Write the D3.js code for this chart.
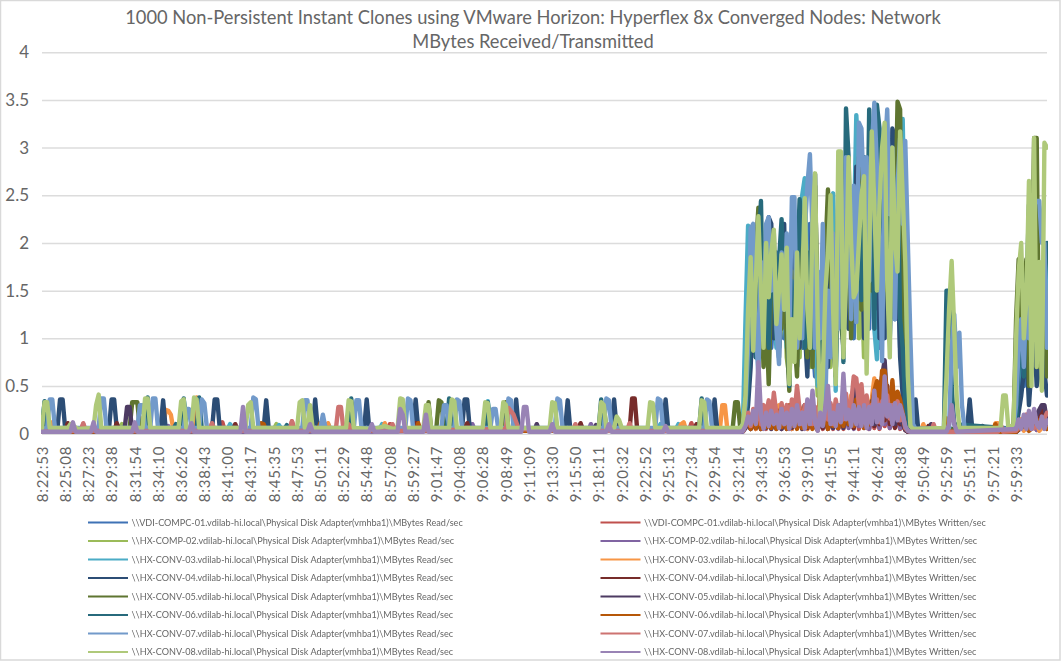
<!DOCTYPE html>
<html>
<head>
<meta charset="utf-8">
<script src="https://cdn.jsdelivr.net/npm/d3@7"></script>
<style>
body { margin: 0; background: #fff; }
text { font-family: Lato, "Open Sans", sans-serif; fill: #666; }
.grid line { stroke: #dcdcdc; stroke-width: 1.5; }
.grid path, .xaxis path, .xaxis line { display: none; }
.ylab text { font-size: 17px; }
.xaxis text { font-size: 15px; letter-spacing: .8px; }
.legend text { font-size: 9.1px; filter: blur(.35px); }
</style>
</head>
<body>
<div id="chart"></div>
<script>
"use strict";

var titleLines = ['1000 Non-Persistent Instant Clones using VMware Horizon: Hyperflex 8x Converged Nodes: Network', 'MBytes Received/Transmitted'];
var yTicks = [0, 0.5, 1, 1.5, 2, 2.5, 3, 3.5, 4];
var timeLabels = ['8:22:53','8:25:08','8:27:23','8:29:38','8:31:54','8:34:10','8:36:26','8:38:43','8:41:00','8:43:17','8:45:35','8:47:53','8:50:11','8:52:29','8:54:48','8:57:08','8:59:27','9:01:47','9:04:08','9:06:28','9:08:49','9:11:09','9:13:30','9:15:50','9:18:11','9:20:32','9:22:52','9:25:13','9:27:34','9:29:54','9:32:14','9:34:35','9:36:53','9:39:10','9:41:55','9:44:11','9:46:24','9:48:38','9:50:49','9:52:59','9:55:11','9:57:21','9:59:33'];
var samplesPerLabel = 9;
var lastSample = 390;
var busyStart = 272;

var hosts = ['\\\\VDI-COMPC-01.vdilab-hi.local', '\\\\HX-COMP-02.vdilab-hi.local', '\\\\HX-CONV-03.vdilab-hi.local', '\\\\HX-CONV-04.vdilab-hi.local', '\\\\HX-CONV-05.vdilab-hi.local', '\\\\HX-CONV-06.vdilab-hi.local', '\\\\HX-CONV-07.vdilab-hi.local', '\\\\HX-CONV-08.vdilab-hi.local'];
var readColors = ['#3f72b5', '#9bbb59', '#4bacc6', '#2c4d75', '#5f7530', '#276a7c', '#729aca', '#afc97a'];
var writeColors = ['#c0504d', '#8064a2', '#f79646', '#772c2a', '#4d3b62', '#b65708', '#cd7371', '#9983b5'];

var read01Idle = [[0,.04],[60,.05],[61,.1],[62,.05],[150,.04],[271,.05]];
var read01Busy = [.05,.4,1.1,.8,1.6,.9,1.8,1.2,2,1,1.6,.9,1.3,1.9,.9,1.5,1,1.7,.7,2,1.3,.7,1.1,.9,1.4,.9,2.2,1,.6,1.2,.5,1.4,.8,1.6,1,1.9,.8,1.4,2,1,2.3,1.2,1.6,1,2.2,1.3,2.4,1,1.8,1.1,2.5,1.4,2,.9,1.6,1.2,2.4,1,1.7,1.2,2,.9,.6,.2,.06,.05,.05];
var read01Tail = [[339,.04],[378,.04],[379,.3],[380,.8],[381,.5],[383,1.1],[385,.7],[387,1.2],[390,.8]];

var write01Idle = [[0,.02],[15,.02],[16,.1],[17,.02],[65,.02],[66,.11],[67,.02],[69,.02],[70,.12],[71,.02],[96,.02],[97,.13],[98,.02],[134,.03],[135,.1],[136,.03],[164,.03],[165,.1],[166,.03],[184,.03],[185,.1],[186,.03],[208,.03],[209,.1],[210,.03],[251,.03],[252,.11],[253,.03],[271,.03]];
var write01Busy = [.03,.08,.14,.06,.16,.05,.2,.06,.18,.05,.16,.08,.2,.06,.16,.05,.18,.07,.2,.05,.16,.06,.22,.06,.2,.05,.18,.06,.2,.04,.16,.05,.2,.06,.18,.05,.22,.07,.2,.05,.24,.08,.2,.06,.22,.05,.2,.08,.24,.05,.2,.06,.22,.05,.2,.08,.24,.06,.2,.07,.18,.05,.1,.04,.02,.02,.02];
var write01Tail = [[339,.02],[345,.02],[346,.08],[347,.02],[370,.02],[371,.1],[372,.02],[378,.03],[384,.12],[386,.04],[390,.15]];

var read02Idle = [[0,.05],[30,.06],[31,.1],[32,.05],[90,.05],[91,.1],[92,.05],[271,.05]];
var read02Busy = [.05,.3,1,1.6,.9,1.4,1.9,1,.8,1.6,1,1.7,1.1,1.8,.9,1.2,1.7,.8,.6,1.4,.9,1.6,.8,1.9,1,1.5,.7,2,1.1,.4,.8,1.4,1.1,1.9,.7,1.6,.6,2.1,1.2,2.4,1.3,1.1,1.8,1.3,2.2,1,1.7,.8,2.5,1.5,2.1,1.2,2.6,1.8,1,2.3,1.4,2.5,1.5,2.2,1.3,2.6,1,.4,.1,.05,.05];
var read02Tail = [[339,.05],[377,.05],[378,.9],[379,1.5],[380,.8],[381,1.6],[382,.9],[383,2],[384,.7],[385,2.2],[386,.6],[387,1.7],[388,.5],[389,2],[390,1.4]];

var write02Idle = [[0,.02],[48,.02],[49,.08],[50,.02],[120,.02],[121,.08],[122,.02],[166,.03],[167,.1],[168,.03],[212,.03],[213,.1],[214,.03],[271,.02]];
var write02Busy = [.02,.06,.12,.05,.14,.06,.2,.05,.16,.06,.2,.05,.18,.06,.14,.05,.2,.06,.16,.05,.22,.07,.2,.06,.24,.05,.2,.07,.18,.04,.2,.06,.18,.05,.24,.06,.2,.05,.26,.08,.24,.06,.2,.05,.3,.08,.24,.06,.26,.05,.28,.08,.24,.06,.3,.1,.26,.06,.22,.08,.2,.06,.12,.04,.02,.02,.02];
var write02Tail = [[339,.02],[378,.02],[384,.14],[386,.04],[390,.1]];

var read03Idle = [[0,.05],[1,.33],[2,.05],[54,.05],[55,.36],[56,.05],[72,.05],[73,.1],[74,.05],[91,.05],[92,.09],[93,.05],[110,.05],[111,.1],[112,.05],[131,.05],[132,.1],[133,.05],[172,.05],[173,.34],[174,.05],[239,.05],[240,.1],[241,.05],[246,.05],[247,.1],[248,.05],[271,.05]];
var read03Busy = [.1,1.2,2.18,1.7,1,1.6,1.1,2,.9,1.5,1,1.7,1.3,.9,1.8,1.2,1.4,.9,1.2,1.9,1.4,.8,2,2.5,2.68,1.4,.9,1.8,1.2,.5,1.6,1.2,1.9,1.1,2.4,2.52,.45,2.2,1.6,2.6,1.5,2.4,1.3,2,3.34,2.8,1.5,2.3,1.3,2.8,1.9,1.1,.78,2.2,2.7,1.4,2.6,1.3,2.8,1.8,2.4,2.9,3.3,1.8,.4,.08,.05];
var read03Tail = [[339,.04],[377,.05],[379,.6],[380,1.3],[381,.8],[383,1.7],[384,.8],[385,2],[387,1.6],[388,.8],[390,1.8]];

var write03Idle = [[0,.02],[3,.03],[4,.12],[5,.1],[6,.03],[37,.03],[38,.16],[39,.16],[40,.03],[47,.04],[48,.25],[49,.24],[50,.2],[51,.04],[59,.05],[60,.38],[61,.05],[110,.03],[111,.11],[112,.03],[132,.03],[133,.11],[134,.03],[223,.03],[224,.12],[225,.03],[247,.03],[248,.1],[249,.12],[250,.03],[263,.03],[264,.3],[265,.3],[266,.03],[271,.03]];
var write03Busy = [.03,.1,.2,.06,.18,.05,.22,.08,.25,.06,.2,.08,.24,.06,.3,.1,.22,.06,.24,.05,.18,.07,.26,.08,.2,.05,.24,.08,.2,.04,.4,.1,.26,.08,.3,.1,.24,.06,.28,.1,.32,.12,.4,.12,.45,.5,.18,.34,.1,.3,.36,.58,.2,.3,.46,.14,.34,.2,.4,.15,.34,.22,.18,.06,.03,.02,.02];
var write03Tail = [[339,.02],[341,.02],[342,.1],[343,.02],[369,.02],[370,.11],[371,.11],[372,.02],[378,.02],[380,.15],[381,.03],[385,.18],[387,.03],[390,.12]];

var read04Idle = [[0,.04],[6,.05],[7,.36],[8,.36],[9,.05],[26,.05],[27,.36],[28,.36],[29,.05],[46,.05],[47,.35],[48,.05],[66,.05],[67,.36],[68,.36],[69,.05],[86,.05],[87,.35],[88,.05],[105,.05],[106,.36],[107,.05],[125,.05],[126,.36],[127,.05],[144,.05],[145,.36],[146,.05],[163,.05],[164,.36],[165,.36],[166,.05],[183,.05],[184,.36],[185,.05],[203,.05],[204,.35],[205,.05],[221,.05],[222,.36],[223,.05],[241,.05],[242,.36],[243,.05],[260,.05],[261,.36],[262,.05],[271,.05]];
var read04Busy = [.05,.1,.3,.7,1.4,.8,1.5,.9,1.7,1.1,2.27,2.2,1,1.7,.8,1.9,2.2,1,.7,1.4,2.1,1.2,.9,1.8,1.1,.6,1.6,2.2,2.72,1,.3,.9,1.6,.7,1.9,1.1,.6,2.2,1.3,2.5,1.9,1.1,2.1,1.4,2.8,1.6,2.4,1,2.5,1.8,2.9,1.3,2.6,1,2.1,1,2.6,1.5,3.2,3.1,1.9,.8,.4,.1,.05,.05,.05];
var read04Tail = [[338,.05],[339,.36],[340,.05],[359,.05],[360,.36],[361,.05],[378,.05],[380,.4],[382,.9],[383,.3],[385,1.1],[386,.5],[388,.9],[390,.4]];

var write04Idle = [[0,.02],[9,.03],[10,.11],[11,.03],[28,.03],[29,.11],[30,.03],[74,.03],[75,.1],[76,.03],[144,.03],[145,.11],[146,.03],[164,.03],[165,.11],[166,.03],[208,.03],[209,.11],[210,.03],[228,.03],[229,.37],[230,.37],[231,.03],[253,.03],[254,.1],[255,.03],[271,.03]];
var write04Busy = [.03,.08,.14,.05,.2,.06,.16,.05,.2,.07,.18,.06,.22,.05,.2,.07,.18,.05,.2,.06,.26,.08,.2,.05,.3,.06,.18,.08,.22,.05,.2,.06,.24,.05,.2,.07,.26,.06,.22,.08,.3,.1,.28,.06,.5,.2,.34,.08,.26,.1,.3,.08,.22,.1,.4,.14,.5,.1,.26,.06,.22,.1,.12,.04,.02,.02,.02];
var write04Tail = [[339,.02],[343,.02],[344,.08],[345,.02],[378,.02],[384,.16],[386,.08],[388,.24],[390,.1]];

var read05Idle = [[0,.05],[34,.05],[35,.33],[37,.33],[38,.05],[149,.05],[150,.33],[151,.05],[153,.05],[154,.35],[155,.33],[156,.05],[179,.05],[180,.33],[181,.05],[217,.05],[218,.3],[219,.05],[268,.05],[269,.33],[270,.33],[271,.05]];
var read05Busy = [.1,.35,.9,1.7,1,1.9,2.37,1.5,.7,1.3,.52,1.6,2.1,1,1.5,1.1,1.8,1,.45,1.7,1,.6,1.7,2.3,1.2,.8,1.9,.7,2.6,1.3,.5,1.1,1.9,2.56,1.7,1,1.4,2,1.2,.9,2.6,1.9,1,2.3,1.6,2.9,1.3,2.3,1.1,2.7,1.5,2.8,1.6,2.9,1.2,2.2,1.5,2.8,1.6,2.1,3.48,3.4,1,.6,.2,.05,.05];
var read05Tail = [[339,.04],[377,.05],[378,1.2],[379,1.83],[380,1],[381,1.4],[382,1.83],[383,.5],[384,1.4],[385,3.1],[386,3.1],[387,.7],[388,1.1],[389,1.6],[390,.6]];

var write05Idle = [[0,.02],[32,.03],[33,.28],[34,.28],[35,.03],[191,.03],[192,.1],[193,.03],[214,.03],[215,.09],[216,.03],[271,.03]];
var write05Busy = [.03,.06,.16,.05,.18,.06,.16,.05,.2,.06,.18,.05,.22,.07,.18,.05,.2,.06,.24,.07,.2,.06,.24,.05,.3,.08,.22,.06,.2,.04,.26,.08,.2,.06,.28,.06,.24,.08,.26,.06,.3,.1,.28,.36,.5,.44,.2,.14,.3,.12,.34,.1,.22,.44,.6,.77,.3,.2,.3,.1,.26,.14,.1,.04,.02,.02,.02];
var write05Tail = [[339,.02],[344,.02],[345,.1],[346,.02],[364,.02],[365,.08],[366,.02],[378,.02],[386,.2],[388,.3],[389,.3],[390,.12]];

var read06Idle = [[0,.05],[1,.34],[2,.05],[40,.05],[41,.38],[42,.05],[51,.05],[52,.1],[53,.05],[54,.05],[55,.37],[56,.05],[60,.05],[61,.38],[62,.05],[94,.05],[95,.09],[96,.05],[119,.05],[120,.37],[121,.05],[157,.05],[158,.37],[159,.05],[172,.05],[173,.33],[174,.05],[216,.05],[217,.36],[218,.05],[255,.05],[256,.37],[257,.05],[271,.05]];
var read06Busy = [.1,.15,.5,1.1,1.9,.8,1.9,2.44,1,1.5,.9,2,1.6,1,1.8,2.25,1.4,1.9,.5,1.6,1.1,1.7,2.46,2.1,.9,1.3,1.9,.9,1.6,1.1,.4,1.4,1.1,1.5,.9,1.9,.9,2.6,2,.75,3.41,2.9,1.5,2.2,1.7,2.6,1.4,2.9,1.4,3.4,2.5,1.1,3.45,3.2,1.6,2.6,3,1.7,2.4,1.3,2.7,1.2,.9,.3,.1,.06,.05];
var read06Tail = [[339,.04],[350,.06],[351,1.5],[352,1.5],[353,.5],[354,.1],[378,.05],[379,.7],[380,1.2],[381,.6],[382,1.4],[383,2.4],[384,.9],[386,1.6],[388,1.1],[390,2]];

var write06Idle = [[0,.02],[84,.03],[85,.11],[86,.1],[87,.03],[107,.03],[108,.11],[109,.1],[110,.03],[145,.03],[146,.11],[147,.03],[271,.03]];
var write06Busy = [.03,.08,.18,.05,.2,.06,.22,.05,.24,.07,.2,.06,.26,.05,.24,.07,.2,.05,.3,.08,.24,.05,.28,.06,.2,.07,.26,.05,.22,.04,.45,.1,.24,.05,.3,.08,.22,.06,.3,.08,.34,.1,.32,.08,.36,.14,.3,.06,.28,.1,.3,.45,.55,.2,.66,.66,.4,.2,.56,.2,.44,.36,.22,.06,.03,.02,.02];
var write06Tail = [[339,.02],[350,.02],[351,.16],[352,.02],[369,.02],[370,.1],[371,.02],[378,.02],[381,.1],[383,.03],[387,.14],[390,.05]];

var read07Idle = [[0,.05],[2,.06],[3,.36],[4,.36],[5,.06],[22,.06],[23,.37],[24,.37],[25,.06],[37,.06],[38,.3],[39,.3],[40,.06],[42,.06],[43,.37],[44,.37],[45,.06],[55,.06],[56,.26],[57,.26],[58,.06],[61,.06],[62,.36],[63,.32],[64,.06],[81,.06],[82,.38],[83,.36],[84,.06],[101,.06],[102,.35],[103,.35],[104,.06],[108,.06],[109,.2],[110,.06],[121,.06],[122,.35],[123,.35],[124,.06],[141,.06],[142,.37],[143,.35],[144,.06],[155,.06],[156,.3],[157,.3],[158,.06],[160,.06],[161,.36],[162,.34],[163,.06],[174,.06],[175,.26],[176,.26],[177,.06],[180,.06],[181,.37],[182,.35],[183,.06],[199,.06],[200,.37],[201,.35],[202,.06],[218,.06],[219,.37],[220,.35],[221,.06],[238,.06],[239,.37],[240,.35],[241,.06],[257,.06],[258,.36],[259,.34],[260,.06],[271,.05]];
var read07Busy = [.1,.3,.9,2.15,2.2,1.1,.6,1.8,1.2,2.2,2.27,1.5,1.9,1.1,.73,1.9,1.3,2.1,1,2.48,2.48,.9,1.3,1,2.1,2.6,2.93,2.1,.9,1.7,1,2.2,.3,1.5,.8,2.1,1.6,1.1,2.2,1.5,2.9,2.5,1.2,2.6,1.17,3.26,3.2,2.4,2.9,1.6,3,3.47,2.8,2,.76,2.9,3.4,2.3,3,1.2,2.6,3.1,2.2,3.07,2,1,.1];
var read07Tail = [[339,.05],[352,.06],[353,.9],[354,1.25],[355,.7],[356,1.06],[357,.3],[358,.06],[377,.05],[378,.3],[379,.9],[380,1.2],[381,.7],[382,1.5],[383,1],[384,1.9],[385,2.4],[386,2.44],[387,2.44],[388,2],[389,2],[390,.9]];

var write07Idle = [[0,.02],[15,.03],[16,.11],[17,.03],[65,.03],[66,.11],[67,.03],[96,.03],[97,.13],[98,.03],[114,.04],[115,.28],[116,.28],[117,.04],[118,.04],[119,.1],[120,.04],[135,.03],[136,.1],[137,.03],[180,.05],[181,.27],[183,.2],[185,.05],[206,.03],[207,.1],[208,.03],[227,.03],[228,.11],[229,.03],[271,.03]];
var write07Busy = [.03,.1,.22,.08,.26,.12,.3,.1,.3,.2,.35,.12,.43,.2,.1,.32,.14,.3,.1,.36,.2,.5,.25,.1,.3,.14,.32,.1,.28,.05,.35,.12,.25,.15,.32,.1,.36,.2,.3,.15,.42,.2,.32,.6,.58,.3,.52,.2,.4,.15,.3,.2,.36,.12,.34,.2,.4,.16,.3,.22,.34,.14,.2,.06,.03,.02,.02];
var write07Tail = [[339,.02],[345,.02],[346,.1],[347,.02],[371,.02],[372,.1],[373,.02],[378,.03],[382,.2],[384,.05],[388,.1],[390,.22]];

var read08Idle = [[0,.06],[1,.33],[2,.33],[3,.06],[10,.06],[11,.1],[14,.05],[20,.06],[21,.3],[22,.41],[23,.06],[39,.06],[40,.37],[41,.37],[42,.06],[53,.06],[54,.34],[55,.36],[56,.06],[58,.06],[59,.38],[60,.36],[61,.06],[79,.06],[80,.3],[81,.33],[82,.06],[99,.06],[100,.33],[101,.35],[102,.06],[103,.06],[104,.3],[105,.06],[118,.06],[119,.35],[120,.34],[121,.06],[129,.05],[133,.08],[136,.05],[138,.06],[139,.37],[140,.36],[141,.06],[148,.06],[149,.3],[150,.3],[151,.06],[158,.06],[159,.36],[160,.34],[161,.06],[171,.06],[172,.33],[173,.32],[174,.06],[178,.06],[179,.33],[180,.3],[181,.06],[197,.06],[198,.33],[199,.32],[200,.06],[216,.06],[217,.33],[218,.3],[219,.06],[222,.06],[223,.18],[224,.14],[225,.06],[235,.06],[236,.33],[237,.32],[238,.06],[255,.06],[256,.35],[257,.33],[258,.06],[271,.06]];
var read08Busy = [.1,.4,1.3,1.85,.87,1.6,2.28,1.5,.9,2,1.43,1.9,2.14,1.15,1.5,1.88,1.3,1.95,.52,1.2,.75,1.9,1,1.6,2.47,1.3,.9,2.2,2.73,1.2,.1,.6,1.5,1.9,2.5,1.3,.52,2.96,2.96,.8,1.6,2.9,2,1.43,1.5,2,2.5,2.7,.63,1.9,3.17,2.4,1.5,2.4,3,3.26,1.6,.8,3,2,1.7,3.17,2.5,1.8,.6,.08,.05];
var read08Tail = [[350,.06],[351,.6],[352,1.3],[353,1.81],[354,1.1],[355,.35],[356,.06],[372,.06],[373,.4],[374,.4],[375,.06],[377,.1],[378,1],[379,1.7],[380,2],[381,1],[382,1.4],[383,2.65],[384,.5],[385,3.1],[386,.7],[387,1.8],[388,.45],[389,3.05],[390,3]];

var write08Idle = [[0,.02],[11,.02],[12,.12],[13,.02],[19,.02],[20,.12],[21,.02],[35,.02],[36,.12],[37,.02],[57,.02],[58,.11],[59,.02],[77,.02],[78,.28],[79,.02],[103,.02],[104,.1],[105,.02],[127,.02],[128,.1],[129,.02],[138,.02],[139,.26],[140,.2],[141,.02],[148,.02],[149,.2],[150,.02],[186,.02],[187,.28],[188,.28],[189,.02],[197,.02],[198,.1],[199,.02],[219,.02],[220,.1],[221,.02],[241,.02],[242,.08],[243,.02],[271,.02]];
var write08Busy = [.03,.08,.18,.1,.24,.1,.75,.2,.05,.22,.08,.24,.1,.2,.06,.26,.1,.22,.05,.26,.08,.3,.1,.22,.05,.36,.1,.45,.12,.03,.22,.08,.28,.5,.1,.22,.08,.3,.12,.63,.15,.25,.08,.3,.1,.28,.08,.3,.06,.28,.1,.45,.12,.3,.1,.6,.18,.3,.1,.32,.14,.3,.2,.08,.03,.02,.02];
var write08Tail = [[339,.02],[351,.02],[352,.1],[353,.3],[354,.1],[355,.02],[378,.05],[379,.15],[380,.05],[381,.2],[382,.05],[383,.24],[384,.05],[385,.26],[386,.1],[387,.06],[388,.18],[389,.05],[390,.14]];

var readIdle = [read01Idle, read02Idle, read03Idle, read04Idle, read05Idle, read06Idle, read07Idle, read08Idle];
var readBusy = [read01Busy, read02Busy, read03Busy, read04Busy, read05Busy, read06Busy, read07Busy, read08Busy];
var readTail = [read01Tail, read02Tail, read03Tail, read04Tail, read05Tail, read06Tail, read07Tail, read08Tail];
var writeIdle = [write01Idle, write02Idle, write03Idle, write04Idle, write05Idle, write06Idle, write07Idle, write08Idle];
var writeBusy = [write01Busy, write02Busy, write03Busy, write04Busy, write05Busy, write06Busy, write07Busy, write08Busy];
var writeTail = [write01Tail, write02Tail, write03Tail, write04Tail, write05Tail, write06Tail, write07Tail, write08Tail];

function joinSeries(idle, busy, tail) {
    var mid = busy.map(function (v, k) { return [busyStart + k, v]; });
    return idle.concat(mid, tail);
}

var width = 1061, height = 661;
var margin = {top: 52.2, right: 14, bottom: 227.3, left: 42};

var svg = d3.select('#chart').append('svg')
    .attr('width', width)
    .attr('height', height)
    .style('display', 'block');

svg.append('rect')
    .attr('x', 0.5).attr('y', 0.5)
    .attr('width', width - 1.5).attr('height', height - 1.5)
    .attr('fill', '#fff')
    .attr('stroke', '#d9d9d9')
    .attr('stroke-width', 1.5);

svg.selectAll('.title')
    .data(titleLines)
    .enter().append('text')
    .attr('class', 'title')
    .attr('x', 533)
    .attr('y', function (d, i) { return 24 + i * 24; })
    .attr('text-anchor', 'middle')
    .style('font-size', '18.3px')
    .text(function (d) { return d; });

var x = d3.scaleLinear().domain([0, lastSample]).range([margin.left, width - margin.right]);
var y = d3.scaleLinear().domain([0, 4]).range([height - margin.bottom, margin.top]);

var yAxis = d3.axisLeft(y)
    .tickValues(yTicks)
    .tickSize(-(width - margin.left - margin.right))
    .tickPadding(13)
    .tickFormat(d3.format('~g'));

svg.append('g')
    .attr('class', 'grid ylab')
    .attr('transform', 'translate(' + margin.left + ',0)')
    .call(yAxis);

var tickSamples = timeLabels.map(function (d, i) { return i * samplesPerLabel; });
var xAxis = d3.axisBottom(x)
    .tickValues(tickSamples)
    .tickSize(0)
    .tickFormat(function (d) { return timeLabels[d / samplesPerLabel]; });

svg.append('g')
    .attr('class', 'xaxis')
    .attr('transform', 'translate(0,' + y(0) + ')')
    .call(xAxis)
    .selectAll('text')
    .attr('transform', 'rotate(-90)')
    .attr('text-anchor', 'end')
    .attr('x', -12)
    .attr('y', 0)
    .attr('dy', '.35em');

var line = d3.line()
    .x(function (d) { return x(d[0]); })
    .y(function (d) { return y(d[1]); });

svg.append('clipPath')
    .attr('id', 'plotclip')
    .append('rect')
    .attr('x', margin.left - 1)
    .attr('y', 0)
    .attr('width', x(lastSample) - margin.left + 2)
    .attr('height', y(0) + 0.5);

var marks = svg.append('g')
    .attr('clip-path', 'url(#plotclip)')
    .append('g')
    .style('filter', 'blur(0.5px)');

hosts.forEach(function (h, i) {
    marks.append('path')
        .attr('d', line(joinSeries(readIdle[i], readBusy[i], readTail[i])))
        .attr('fill', 'none')
        .attr('stroke', readColors[i])
        .attr('stroke-width', 4.4)
        .attr('stroke-linejoin', 'round')
        .attr('stroke-linecap', 'round');
    marks.append('path')
        .attr('d', line(joinSeries(writeIdle[i], writeBusy[i], writeTail[i])))
        .attr('fill', 'none')
        .attr('stroke', writeColors[i])
        .attr('stroke-width', 4.4)
        .attr('stroke-linejoin', 'round')
        .attr('stroke-linecap', 'round');
});

var legendRows = d3.scalePoint().domain(d3.range(hosts.length)).range([522.5, 652]);
var legendCols = [{x: 88, colors: readColors, suffix: 'Read/sec'}, {x: 600.5, colors: writeColors, suffix: 'Written/sec'}];

var legend = svg.append('g').attr('class', 'legend');
legendCols.forEach(function (col) {
    hosts.forEach(function (h, i) {
        legend.append('line')
            .attr('x1', col.x).attr('x2', col.x + 40)
            .attr('y1', legendRows(i)).attr('y2', legendRows(i))
            .attr('stroke', col.colors[i])
            .attr('stroke-width', 2.2);
        legend.append('text')
            .attr('x', col.x + 43.5)
            .attr('y', legendRows(i) + 3)
            .text(h + '\\Physical Disk Adapter(vmhba1)\\MBytes ' + col.suffix);
    });
});
</script>
</body>
</html>
